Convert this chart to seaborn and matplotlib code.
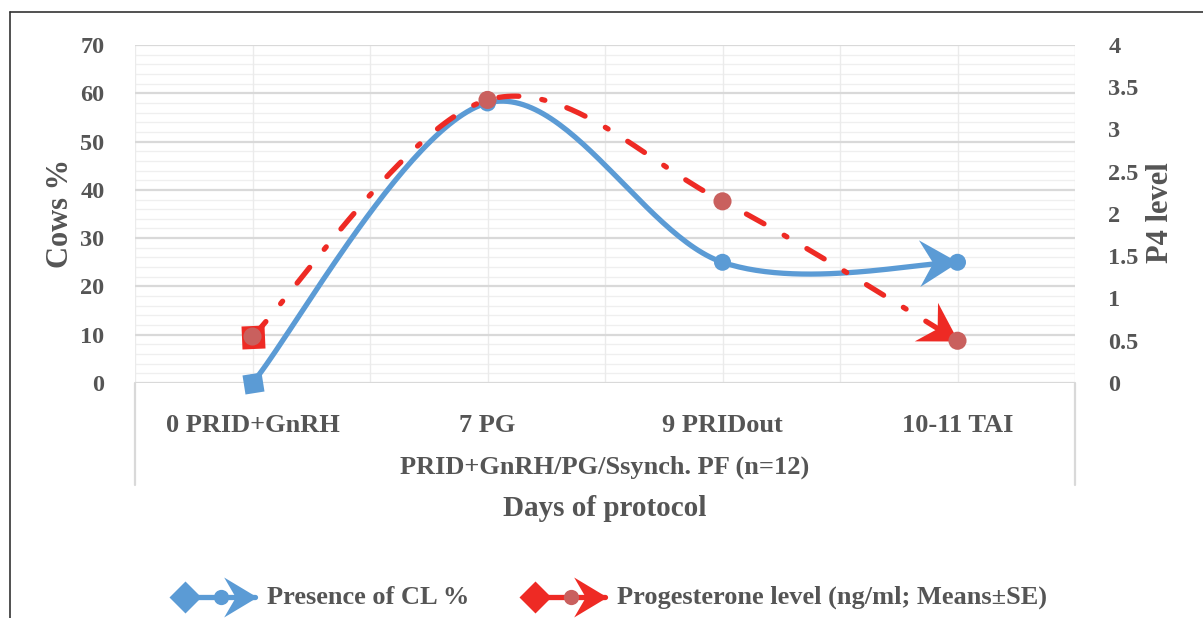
import numpy as np
import matplotlib.pyplot as plt
import seaborn as sns
from matplotlib.markers import MarkerStyle
from matplotlib.path import Path
from matplotlib.transforms import Affine2D
from matplotlib.lines import Line2D

# data
days = ['0 PRID+GnRH', '7 PG', '9 PRIDout', '10-11 TAI']
cl_pct = [0, 58, 25, 25]
p4_level = [0.55, 3.35, 2.15, 0.5]
group_label = 'PRID+GnRH/PG/Ssynch. PF (n=12)'
cl_name = 'Presence of CL %'
p4_name = 'Progesterone level (ng/ml; Means\u00b1SE)'

W, H = 1203, 618
BLUE = '#5B9BD5'
RED = '#EE2A24'
RED_DOT = '#C9605E'
GREY = '#555555'
FONT = 'Liberation Serif'


def smooth(vals, n=60):
    # excel-like smoothed line (bezier through the points)
    pts = np.column_stack([np.arange(len(vals), dtype=float), np.asarray(vals, float)])
    ext = np.vstack([pts[0], pts, pts[-1]])
    out = []
    for i in range(len(pts) - 1):
        p0, p1, p2, p3 = ext[i], ext[i + 1], ext[i + 2], ext[i + 3]
        c1 = p1 + (p2 - p0) / 6
        c2 = p2 - (p3 - p1) / 6
        t = np.linspace(0, 1, n)[:, None]
        seg = (1 - t) ** 3 * p1 + 3 * (1 - t) ** 2 * t * c1 + 3 * (1 - t) * t ** 2 * c2 + t ** 3 * p2
        out.append(seg if i == 0 else seg[1:])
    return np.vstack(out)


ARROW = Path([(0, 0), (-1.0, 0.6), (-0.65, 0), (-1.0, -0.6), (0, 0)],
             [Path.MOVETO, Path.LINETO, Path.LINETO, Path.LINETO, Path.CLOSEPOLY])


def arrow_marker(angle):
    return MarkerStyle(ARROW, transform=Affine2D().rotate_deg(angle))


def diamond_marker(angle):
    return MarkerStyle('D', transform=Affine2D().rotate_deg(angle))


def disp_angle(ax, a, b):
    pa = ax.transData.transform(a)
    pb = ax.transData.transform(b)
    return np.degrees(np.arctan2(pb[1] - pa[1], pb[0] - pa[0]))


def px(x, y):
    return x / W, 1 - y / H


sns.set_style('white')
plt.rcParams['font.family'] = [FONT, 'DejaVu Serif']
plt.rcParams['font.weight'] = 'bold'

fig = plt.figure(figsize=(W / 100, H / 100), dpi=100)
ax = fig.add_axes([135 / W, 1 - 383 / H, (1075 - 135) / W, (383 - 45) / H])
ax2 = ax.twinx()

ax.set_xlim(-0.5, 3.5)
ax.set_ylim(0, 70)
ax2.set_ylim(0, 4)

# grid
for v in np.arange(0, 71, 2):
    if v % 10:
        ax.axhline(v, color='#EFEFEF', lw=0.9, zorder=0)
for v in np.arange(0, 71, 10):
    ax.axhline(v, color='#D9D9D9', lw=1.6, zorder=0.5)
for v in np.arange(-0.5, 3.6, 0.5):
    ax.axvline(v, color='#EBEBEB', lw=1.0, zorder=0)

for s in list(ax.spines.values()) + list(ax2.spines.values()):
    s.set_visible(False)

# blue smoothed line (left axis)
cl_curve = smooth(cl_pct)
sns.lineplot(x=cl_curve[:, 0], y=cl_curve[:, 1], ax=ax, color=BLUE, lw=3.8,
             sort=False, estimator=None, zorder=3)
sns.scatterplot(x=np.arange(len(days)), y=cl_pct, ax=ax, color=BLUE, s=150,
                edgecolor='none', zorder=5)

# red smoothed dash-dot line (right axis)
p4_curve = smooth(p4_level)
sns.lineplot(x=p4_curve[:, 0], y=p4_curve[:, 1], ax=ax2, color=RED, lw=3.8,
             sort=False, estimator=None, zorder=3)
ax2.lines[-1].set_linestyle((0, (3.8, 4.4, 0.6, 4.4)))
ax2.lines[-1].set_dash_capstyle('round')

# start diamonds / end arrows
ang = disp_angle(ax, cl_curve[0], cl_curve[3])
ax.plot(cl_curve[0, 0], cl_curve[0, 1], marker=diamond_marker(ang), ms=14,
        color=BLUE, mec='none', zorder=4, clip_on=False)
ang = disp_angle(ax, cl_curve[-4], cl_curve[-1])
ax.plot(cl_curve[-1, 0], cl_curve[-1, 1], marker=arrow_marker(ang), ms=56,
        color=BLUE, mec='none', zorder=4, clip_on=False)

ang = disp_angle(ax2, p4_curve[0], p4_curve[3])
ax2.plot(p4_curve[0, 0], p4_curve[0, 1], marker=diamond_marker(ang), ms=17,
         color=RED, mec='none', zorder=4, clip_on=False)
ang = disp_angle(ax2, p4_curve[-6], p4_curve[-1])
ax2.plot(p4_curve[-1, 0], p4_curve[-1, 1], marker=arrow_marker(ang), ms=54,
         color=RED, mec='none', zorder=4, clip_on=False)
sns.scatterplot(x=np.arange(len(days)), y=p4_level, ax=ax2, color=RED_DOT, s=170,
                edgecolor='none', zorder=5)

# ticks
ax.set_yticks(np.arange(0, 71, 10))
ax.tick_params(axis='y', length=0, pad=22, labelsize=17.5, labelcolor=GREY)
ax2.set_yticks(np.arange(0, 4.01, 0.5))
ax2.set_yticklabels([f'{v:g}' for v in np.arange(0, 4.01, 0.5)])
ax2.tick_params(axis='y', length=0, pad=24, labelsize=17.5, labelcolor=GREY)
ax.set_xticks(range(len(days)))
ax.set_xticklabels(days)
ax.tick_params(axis='x', length=0, pad=22, labelsize=19, labelcolor=GREY)
ax.set_xlabel('')
ax.set_ylabel('')
ax2.set_ylabel('')

# category box and group label
for xv in (0, 1):
    ax.plot([xv, xv], [0, -(485 - 383) / (383 - 45)], transform=ax.transAxes,
            color='#D9D9D9', lw=1.6, clip_on=False)
fig.text(*px(605, 467), group_label, ha='center', va='center', fontsize=19, color=GREY)
fig.text(*px(605, 508), 'Days of protocol', ha='center', va='center', fontsize=21, color=GREY)
fig.text(*px(60, 213), 'Cows %', ha='center', va='center', rotation=90, fontsize=22, color=GREY)
fig.text(*px(1160, 213), 'P4 level', ha='center', va='center', rotation=90, fontsize=22, color=GREY)

# legend drawn by hand
def legend_item(x0, color, dot, text, tx):
    y = 597
    fig.add_artist(Line2D([px(x0, y)[0], px(x0 + 70, y)[0]], [px(x0, y)[1]] * 2,
                          transform=fig.transFigure, color=color, lw=3.8))
    fig.add_artist(Line2D([px(x0, y)[0]], [px(x0, y)[1]], transform=fig.transFigure,
                          marker='D', ms=16.5, color=color, mec='none'))
    fig.add_artist(Line2D([px(x0 + 36, y)[0]], [px(x0 + 36, y)[1]], transform=fig.transFigure,
                          marker='o', ms=11, color=dot, mec='none'))
    fig.add_artist(Line2D([px(x0 + 72, y)[0]], [px(x0 + 72, y)[1]], transform=fig.transFigure,
                          marker=arrow_marker(0), ms=48, color=color, mec='none'))
    fig.text(*px(tx, y), text, ha='left', va='center', fontsize=19, color=GREY)


legend_item(185, BLUE, BLUE, cl_name, 267)
legend_item(535, RED, RED_DOT, p4_name, 617)

# outer frame
fig.add_artist(Line2D([px(10, 12)[0], 1], [px(10, 12)[1]] * 2, transform=fig.transFigure,
                      color='#333333', lw=1.2))
fig.add_artist(Line2D([px(10, 12)[0]] * 2, [0, px(10, 12)[1]], transform=fig.transFigure,
                      color='#333333', lw=1.2))

fig.savefig('out.png', dpi=100)
